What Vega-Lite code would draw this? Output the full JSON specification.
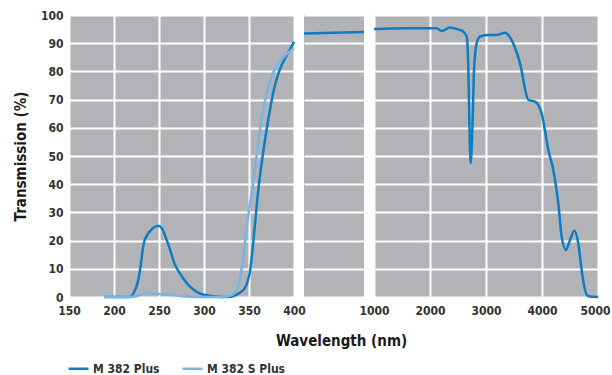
{
  "$schema": "https://vega.github.io/schema/vega-lite/v6.json",
  "autosize": "none",
  "padding": {"left": 69, "top": 15, "right": 543, "bottom": 360},
  "bounds": "flush",
  "spacing": 10,
  "config": {
    "font": "DejaVu Sans Condensed",
    "view": {"fill": "#b2b3b6", "stroke": null},
    "axis": {
      "grid": true, "gridColor": "#ffffff", "gridWidth": 2, "gridOpacity": 1,
      "domain": false, "ticks": false,
      "labelFont": "DejaVu Sans Condensed", "labelFontWeight": "bold", "labelFontSize": 12, "labelColor": "#333333",
      "titleFont": "DejaVu Sans Condensed", "titleFontWeight": "bold", "titleFontSize": 15, "titleColor": "#1a1a1a"
    },
    "legend": {
      "labelFont": "DejaVu Sans Condensed", "labelFontWeight": "bold", "labelFontSize": 12, "labelColor": "#333333"
    }
  },
  "datasets": {
    "spectra": [
      {"panel": "a", "series": "M 382 Plus", "wl": 189, "t": 0},
      {"panel": "a", "series": "M 382 Plus", "wl": 200, "t": 0},
      {"panel": "a", "series": "M 382 Plus", "wl": 217, "t": 0},
      {"panel": "a", "series": "M 382 Plus", "wl": 222, "t": 1.5},
      {"panel": "a", "series": "M 382 Plus", "wl": 227, "t": 6},
      {"panel": "a", "series": "M 382 Plus", "wl": 230, "t": 12},
      {"panel": "a", "series": "M 382 Plus", "wl": 233, "t": 19},
      {"panel": "a", "series": "M 382 Plus", "wl": 237, "t": 22},
      {"panel": "a", "series": "M 382 Plus", "wl": 241, "t": 23.7},
      {"panel": "a", "series": "M 382 Plus", "wl": 245, "t": 24.8},
      {"panel": "a", "series": "M 382 Plus", "wl": 249, "t": 25.3},
      {"panel": "a", "series": "M 382 Plus", "wl": 253, "t": 24.5},
      {"panel": "a", "series": "M 382 Plus", "wl": 257, "t": 21.5},
      {"panel": "a", "series": "M 382 Plus", "wl": 260, "t": 19},
      {"panel": "a", "series": "M 382 Plus", "wl": 264, "t": 15},
      {"panel": "a", "series": "M 382 Plus", "wl": 267, "t": 12},
      {"panel": "a", "series": "M 382 Plus", "wl": 271, "t": 9.5},
      {"panel": "a", "series": "M 382 Plus", "wl": 276, "t": 7},
      {"panel": "a", "series": "M 382 Plus", "wl": 282, "t": 4.5},
      {"panel": "a", "series": "M 382 Plus", "wl": 289, "t": 2.5},
      {"panel": "a", "series": "M 382 Plus", "wl": 295, "t": 1.3},
      {"panel": "a", "series": "M 382 Plus", "wl": 300, "t": 0.8},
      {"panel": "a", "series": "M 382 Plus", "wl": 310, "t": 0.3},
      {"panel": "a", "series": "M 382 Plus", "wl": 320, "t": 0},
      {"panel": "a", "series": "M 382 Plus", "wl": 330, "t": 0.1},
      {"panel": "a", "series": "M 382 Plus", "wl": 336, "t": 0.8},
      {"panel": "a", "series": "M 382 Plus", "wl": 341, "t": 1.8},
      {"panel": "a", "series": "M 382 Plus", "wl": 345, "t": 3},
      {"panel": "a", "series": "M 382 Plus", "wl": 348, "t": 5},
      {"panel": "a", "series": "M 382 Plus", "wl": 351, "t": 9},
      {"panel": "a", "series": "M 382 Plus", "wl": 354, "t": 17},
      {"panel": "a", "series": "M 382 Plus", "wl": 357, "t": 27},
      {"panel": "a", "series": "M 382 Plus", "wl": 360, "t": 37},
      {"panel": "a", "series": "M 382 Plus", "wl": 363, "t": 45},
      {"panel": "a", "series": "M 382 Plus", "wl": 367, "t": 54},
      {"panel": "a", "series": "M 382 Plus", "wl": 372, "t": 64},
      {"panel": "a", "series": "M 382 Plus", "wl": 378, "t": 74},
      {"panel": "a", "series": "M 382 Plus", "wl": 384, "t": 80.5},
      {"panel": "a", "series": "M 382 Plus", "wl": 391, "t": 85.2},
      {"panel": "a", "series": "M 382 Plus", "wl": 396, "t": 88},
      {"panel": "a", "series": "M 382 Plus", "wl": 400, "t": 90.5},
      {"panel": "a", "series": "M 382 S Plus", "wl": 189, "t": 0},
      {"panel": "a", "series": "M 382 S Plus", "wl": 215, "t": 0},
      {"panel": "a", "series": "M 382 S Plus", "wl": 225, "t": 0.3},
      {"panel": "a", "series": "M 382 S Plus", "wl": 230, "t": 0.9},
      {"panel": "a", "series": "M 382 S Plus", "wl": 237, "t": 1.5},
      {"panel": "a", "series": "M 382 S Plus", "wl": 245, "t": 1.2},
      {"panel": "a", "series": "M 382 S Plus", "wl": 255, "t": 0.9},
      {"panel": "a", "series": "M 382 S Plus", "wl": 265, "t": 0.7},
      {"panel": "a", "series": "M 382 S Plus", "wl": 275, "t": 0.3},
      {"panel": "a", "series": "M 382 S Plus", "wl": 285, "t": 0.1},
      {"panel": "a", "series": "M 382 S Plus", "wl": 300, "t": 0},
      {"panel": "a", "series": "M 382 S Plus", "wl": 320, "t": 0},
      {"panel": "a", "series": "M 382 S Plus", "wl": 328, "t": 0.3},
      {"panel": "a", "series": "M 382 S Plus", "wl": 334, "t": 1.5},
      {"panel": "a", "series": "M 382 S Plus", "wl": 338, "t": 4},
      {"panel": "a", "series": "M 382 S Plus", "wl": 341, "t": 8.5},
      {"panel": "a", "series": "M 382 S Plus", "wl": 344, "t": 15},
      {"panel": "a", "series": "M 382 S Plus", "wl": 346, "t": 21},
      {"panel": "a", "series": "M 382 S Plus", "wl": 348.5, "t": 27},
      {"panel": "a", "series": "M 382 S Plus", "wl": 351, "t": 33},
      {"panel": "a", "series": "M 382 S Plus", "wl": 354, "t": 39},
      {"panel": "a", "series": "M 382 S Plus", "wl": 359.6, "t": 53},
      {"panel": "a", "series": "M 382 S Plus", "wl": 365, "t": 65},
      {"panel": "a", "series": "M 382 S Plus", "wl": 372.6, "t": 75.8},
      {"panel": "a", "series": "M 382 S Plus", "wl": 380, "t": 81.7},
      {"panel": "a", "series": "M 382 S Plus", "wl": 389, "t": 85.2},
      {"panel": "a", "series": "M 382 S Plus", "wl": 400, "t": 88.2},
      {"panel": "b", "series": "M 382 Plus", "wl": 400, "t": 93.4},
      {"panel": "b", "series": "M 382 Plus", "wl": 1000, "t": 94.0},
      {"panel": "c", "series": "M 382 Plus", "wl": 1000, "t": 95.0},
      {"panel": "c", "series": "M 382 Plus", "wl": 1524, "t": 95.3},
      {"panel": "c", "series": "M 382 Plus", "wl": 2119, "t": 95.3},
      {"panel": "c", "series": "M 382 Plus", "wl": 2208, "t": 94.3},
      {"panel": "c", "series": "M 382 Plus", "wl": 2357, "t": 95.6},
      {"panel": "c", "series": "M 382 Plus", "wl": 2500, "t": 94.9},
      {"panel": "c", "series": "M 382 Plus", "wl": 2595, "t": 94.1},
      {"panel": "c", "series": "M 382 Plus", "wl": 2655, "t": 92.3},
      {"panel": "c", "series": "M 382 Plus", "wl": 2685, "t": 80.5},
      {"panel": "c", "series": "M 382 Plus", "wl": 2702, "t": 62.8},
      {"panel": "c", "series": "M 382 Plus", "wl": 2726, "t": 47.4},
      {"panel": "c", "series": "M 382 Plus", "wl": 2762, "t": 62.8},
      {"panel": "c", "series": "M 382 Plus", "wl": 2786, "t": 80.5},
      {"panel": "c", "series": "M 382 Plus", "wl": 2833, "t": 90},
      {"panel": "c", "series": "M 382 Plus", "wl": 2893, "t": 92.3},
      {"panel": "c", "series": "M 382 Plus", "wl": 3012, "t": 92.9},
      {"panel": "c", "series": "M 382 Plus", "wl": 3190, "t": 92.9},
      {"panel": "c", "series": "M 382 Plus", "wl": 3339, "t": 93.7},
      {"panel": "c", "series": "M 382 Plus", "wl": 3458, "t": 91.1},
      {"panel": "c", "series": "M 382 Plus", "wl": 3607, "t": 82.9},
      {"panel": "c", "series": "M 382 Plus", "wl": 3756, "t": 69.9},
      {"panel": "c", "series": "M 382 Plus", "wl": 3875, "t": 69.3},
      {"panel": "c", "series": "M 382 Plus", "wl": 3994, "t": 65.1},
      {"panel": "c", "series": "M 382 Plus", "wl": 4113, "t": 52.1},
      {"panel": "c", "series": "M 382 Plus", "wl": 4202, "t": 45},
      {"panel": "c", "series": "M 382 Plus", "wl": 4291, "t": 33.2},
      {"panel": "c", "series": "M 382 Plus", "wl": 4351, "t": 21.4},
      {"panel": "c", "series": "M 382 Plus", "wl": 4429, "t": 16.7},
      {"panel": "c", "series": "M 382 Plus", "wl": 4500, "t": 20.2},
      {"panel": "c", "series": "M 382 Plus", "wl": 4577, "t": 23.5},
      {"panel": "c", "series": "M 382 Plus", "wl": 4648, "t": 19},
      {"panel": "c", "series": "M 382 Plus", "wl": 4708, "t": 9.6},
      {"panel": "c", "series": "M 382 Plus", "wl": 4768, "t": 2.5},
      {"panel": "c", "series": "M 382 Plus", "wl": 4827, "t": 0.3},
      {"panel": "c", "series": "M 382 Plus", "wl": 5000, "t": 0}
    ]
  },
  "hconcat": [
    {
      "width": 225, "height": 282,
      "data": {"name": "spectra"},
      "transform": [{"filter": "datum.panel === 'a'"}],
      "mark": {"type": "line", "strokeWidth": 2.5, "interpolate": "monotone"},
      "encoding": {
        "x": {"field": "wl", "type": "quantitative",
              "scale": {"domain": [150, 400], "nice": false, "zero": false},
              "axis": {"values": [150, 200, 250, 300, 350, 400], "format": "d", "title": null, "labelPadding": 8, "labelFlush": false}},
        "y": {"field": "t", "type": "quantitative",
              "scale": {"domain": [0, 100], "nice": false},
              "axis": {"values": [0, 10, 20, 30, 40, 50, 60, 70, 80, 90, 100], "format": "d", "title": "Transmission (%)", "labelPadding": 6, "titlePadding": 12}},
        "color": {"field": "series", "type": "nominal",
                  "scale": {"domain": ["M 382 Plus", "M 382 S Plus"], "range": ["#0a7dc4", "#7ab4e3"]},
                  "legend": {"title": null, "orient": "none", "legendX": -2, "legendY": 342, "direction": "horizontal",
                             "symbolType": "stroke", "symbolSize": 400, "symbolStrokeWidth": 2.5, "labelOffset": 3, "columnPadding": 17}}
      }
    },
    {
      "width": 60, "height": 282,
      "data": {"name": "spectra"},
      "transform": [{"filter": "datum.panel === 'b'"}],
      "mark": {"type": "line", "strokeWidth": 2.5},
      "encoding": {
        "x": {"field": "wl", "type": "quantitative",
              "scale": {"domain": [400, 1000], "nice": false, "zero": false},
              "axis": {"values": [], "grid": false, "labels": false, "title": "Wavelength (nm)", "titleX": 37, "titlePadding": 36}},
        "y": {"field": "t", "type": "quantitative",
              "scale": {"domain": [0, 100], "nice": false},
              "axis": {"values": [0, 10, 20, 30, 40, 50, 60, 70, 80, 90, 100], "labels": false, "title": null}},
        "color": {"field": "series", "type": "nominal",
                  "scale": {"domain": ["M 382 Plus", "M 382 S Plus"], "range": ["#0a7dc4", "#7ab4e3"]}, "legend": null}
      }
    },
    {
      "width": 224, "height": 282,
      "data": {"name": "spectra"},
      "transform": [{"filter": "datum.panel === 'c'"}],
      "mark": {"type": "line", "strokeWidth": 2.5, "interpolate": "monotone"},
      "encoding": {
        "x": {"field": "wl", "type": "quantitative",
              "scale": {"domain": [1000, 5000], "nice": false, "zero": false},
              "axis": {"values": [1000, 2000, 3000, 4000, 5000], "format": "d", "title": null, "labelPadding": 8, "labelFlush": false,
                       "labelAlign": {"condition": {"test": "datum.value === 5000", "value": "right"}, "value": "center"},
                       "labelOffset": {"condition": {"test": "datum.value === 5000", "value": 12}, "value": 0}}},
        "y": {"field": "t", "type": "quantitative",
              "scale": {"domain": [0, 100], "nice": false},
              "axis": {"values": [0, 10, 20, 30, 40, 50, 60, 70, 80, 90, 100], "labels": false, "title": null}},
        "color": {"field": "series", "type": "nominal",
                  "scale": {"domain": ["M 382 Plus", "M 382 S Plus"], "range": ["#0a7dc4", "#7ab4e3"]}, "legend": null}
      }
    }
  ]
}
